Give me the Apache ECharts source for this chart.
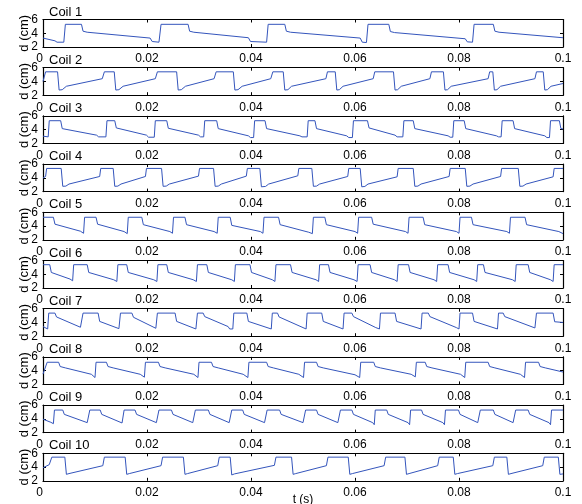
<!DOCTYPE html>
<html>
<head>
<meta charset="utf-8">
<script src="https://cdn.jsdelivr.net/npm/echarts@6/dist/echarts.min.js"></script>
<style>
html,body{margin:0;padding:0;background:#fff;}
#chart{width:582px;height:504px;}
</style>
</head>
<body>
<div id="chart"></div>
<script>
var coilNames = ['Coil 1','Coil 2','Coil 3','Coil 4','Coil 5','Coil 6','Coil 7','Coil 8','Coil 9','Coil 10'];
var xTickLabels = ['0','0.02','0.04','0.06','0.08','0.1'];
var yTickLabels = ['2','4','6'];
var xLabel = 't (s)';
var yLabel = 'd (cm)';

var coil1 = [[0,3.3],[0.0023,2.9],[0.0027,2.7],[0.004,2.7],[0.0043,5.3],[0.0074,5.3],[0.0077,4.3],[0.0085,4.15],[0.0206,3.3],[0.021,2.8],[0.0223,2.7],[0.0227,5.3],[0.0279,5.3],[0.0282,4.3],[0.029,4.15],[0.0395,3.35],[0.0399,2.8],[0.043,2.7],[0.0433,5.3],[0.0465,5.3],[0.0468,4.3],[0.0476,4.15],[0.061,3.3],[0.0614,2.7],[0.0622,2.65],[0.0625,5.3],[0.0665,5.3],[0.0668,4.25],[0.0676,4.1],[0.0812,3.2],[0.0816,2.75],[0.0826,2.7],[0.0829,5.3],[0.0866,5.3],[0.0869,4.3],[0.0877,4.15],[0.1,3.35]];
var coil2 = [[0,4.0],[0.0003,4.2],[0.0005,5.4],[0.0028,5.4],[0.0031,2.75],[0.0037,2.8],[0.0045,3.3],[0.0114,4.4],[0.0118,5.4],[0.0137,5.4],[0.014,2.75],[0.0146,2.8],[0.0154,3.3],[0.0216,4.4],[0.022,5.4],[0.0257,5.4],[0.026,2.75],[0.0266,2.8],[0.0274,3.3],[0.0329,4.4],[0.0333,5.4],[0.0366,5.4],[0.0369,2.75],[0.0375,2.8],[0.0383,3.3],[0.0438,4.4],[0.0442,5.4],[0.0462,5.4],[0.0465,2.75],[0.0471,2.8],[0.0478,3.3],[0.0544,4.4],[0.0547,5.4],[0.0562,5.4],[0.0565,2.75],[0.057,2.8],[0.0577,3.3],[0.0635,4.4],[0.0638,5.4],[0.0674,5.4],[0.0677,2.75],[0.0682,2.8],[0.0689,3.3],[0.0744,4.4],[0.0747,5.4],[0.077,5.4],[0.0773,2.75],[0.0778,2.8],[0.0785,3.3],[0.0856,4.4],[0.0859,5.4],[0.0865,5.4],[0.0868,2.75],[0.0873,2.8],[0.088,3.3],[0.0946,4.4],[0.0949,5.4],[0.0962,5.4],[0.0965,2.75],[0.097,2.8],[0.0977,3.3],[0.1,3.7]];
var coil3 = [[0,3.05],[0.001,2.95],[0.0012,5.3],[0.0034,5.3],[0.0037,4.15],[0.0103,3.2],[0.0107,2.95],[0.0121,2.95],[0.0123,5.3],[0.0138,5.3],[0.0141,4.25],[0.0199,3.2],[0.0203,2.9],[0.0214,2.9],[0.0216,5.3],[0.0238,5.3],[0.0241,4.2],[0.0299,3.2],[0.0303,2.95],[0.0309,2.95],[0.0311,5.3],[0.0334,5.3],[0.0337,4.15],[0.0395,3.1],[0.0399,2.85],[0.0405,2.85],[0.0407,5.3],[0.0427,5.3],[0.043,4.15],[0.0494,3.1],[0.0498,2.95],[0.0508,2.95],[0.051,5.3],[0.0523,5.3],[0.0526,4.15],[0.0584,3.1],[0.0588,2.85],[0.0595,2.85],[0.0597,5.3],[0.0624,5.3],[0.0627,4.25],[0.0677,3.2],[0.0681,2.95],[0.0692,2.95],[0.0694,5.3],[0.0712,5.3],[0.0715,4.15],[0.0779,3.1],[0.0783,2.9],[0.0788,2.9],[0.079,5.3],[0.081,5.3],[0.0813,4.15],[0.0872,3.1],[0.0876,2.95],[0.0881,2.95],[0.0883,5.3],[0.0904,5.3],[0.0907,4.15],[0.0965,3.1],[0.0969,2.85],[0.0974,2.85],[0.0976,5.3],[0.0993,5.3],[0.0996,4.15],[0.1,4.1]];
var coil4 = [[0,3.98],[0.0005,4.2],[0.0007,5.37],[0.0035,5.37],[0.0038,2.77],[0.0044,2.8],[0.005,3.1],[0.0109,4.2],[0.0111,5.37],[0.0135,5.37],[0.0138,2.77],[0.0144,2.8],[0.015,3.1],[0.0197,4.2],[0.0199,5.37],[0.0228,5.37],[0.0231,2.77],[0.0237,2.8],[0.0243,3.1],[0.0299,4.25],[0.0301,5.37],[0.0328,5.37],[0.0331,2.77],[0.0337,2.8],[0.0343,3.1],[0.0391,4.25],[0.0393,5.37],[0.0417,5.37],[0.042,2.7],[0.0428,2.75],[0.0434,3.1],[0.049,4.3],[0.0492,5.37],[0.0517,5.37],[0.052,2.77],[0.0526,2.8],[0.0532,3.1],[0.0586,4.2],[0.0588,5.37],[0.061,5.37],[0.0613,2.7],[0.0619,2.75],[0.0625,3.1],[0.0681,4.15],[0.0683,5.37],[0.0712,5.37],[0.0715,2.77],[0.0721,2.8],[0.0727,3.1],[0.0781,4.2],[0.0783,5.37],[0.0812,5.37],[0.0815,2.77],[0.0821,2.8],[0.0827,3.1],[0.088,4.2],[0.0882,5.37],[0.0914,5.37],[0.0917,2.77],[0.0923,2.8],[0.0929,3.1],[0.0981,4.15],[0.0983,5.37],[0.1,5.37]];
var coil5 = [[0,5.28],[0.002,5.28],[0.0023,4.27],[0.0072,3.25],[0.0078,2.95],[0.008,5.28],[0.0102,5.28],[0.0105,4.27],[0.0156,3.2],[0.0162,2.9],[0.0164,5.28],[0.019,5.28],[0.0193,4.2],[0.0244,3.2],[0.0249,2.95],[0.0251,5.28],[0.0273,5.28],[0.0276,4.2],[0.0329,3.2],[0.0335,2.95],[0.0337,5.28],[0.036,5.28],[0.0363,4.1],[0.0418,3.2],[0.0423,2.95],[0.0425,5.28],[0.0453,5.28],[0.0456,4.2],[0.0511,3.1],[0.0518,2.9],[0.052,5.28],[0.0542,5.28],[0.0545,4.2],[0.06,3.2],[0.0605,2.95],[0.0607,5.28],[0.0632,5.28],[0.0635,4.27],[0.0697,3.2],[0.0702,2.95],[0.0704,5.28],[0.0731,5.28],[0.0734,4.2],[0.0795,3.2],[0.08,2.95],[0.0802,5.28],[0.0824,5.28],[0.0827,4.2],[0.0892,3.2],[0.0897,2.95],[0.0899,5.28],[0.0927,5.28],[0.093,4.2],[0.0992,3.2],[0.1,2.9]];
var coil6 = [[0,5.39],[0.0013,5.39],[0.0016,4.26],[0.0052,3.3],[0.0057,3.05],[0.0059,5.39],[0.0085,5.39],[0.0088,4.26],[0.0136,3.2],[0.0142,2.95],[0.0144,5.39],[0.0161,5.39],[0.0164,4.26],[0.0213,3.2],[0.0219,2.95],[0.0221,5.39],[0.0238,5.39],[0.0241,4.26],[0.0289,3.2],[0.0295,2.95],[0.0297,5.39],[0.0315,5.39],[0.0318,4.26],[0.0363,3.2],[0.0368,2.95],[0.037,5.39],[0.0398,5.39],[0.0401,4.26],[0.0441,3.2],[0.0446,2.95],[0.0448,5.39],[0.0476,5.39],[0.0479,4.26],[0.0525,3.2],[0.053,2.95],[0.0532,5.39],[0.0549,5.39],[0.0552,4.26],[0.0598,3.2],[0.0604,2.95],[0.0606,5.39],[0.0629,5.39],[0.0632,4.26],[0.0676,3.2],[0.0681,2.95],[0.0683,5.39],[0.0703,5.39],[0.0706,4.26],[0.0752,3.2],[0.0757,2.95],[0.0759,5.39],[0.0779,5.39],[0.0782,4.26],[0.0829,3.2],[0.0834,2.95],[0.0836,5.39],[0.0847,5.39],[0.085,4.26],[0.0903,3.2],[0.0908,2.95],[0.091,5.39],[0.0933,5.39],[0.0936,4.26],[0.0976,3.2],[0.0981,2.95],[0.0983,5.39],[0.1,5.39]];
var coil7 = [[0,3.4],[0.0009,3.05],[0.0011,5.36],[0.0023,5.36],[0.0026,4.8],[0.0072,3.3],[0.0075,3.05],[0.0077,5.36],[0.0106,5.36],[0.0109,4.15],[0.0146,3.1],[0.0149,5.36],[0.0171,5.36],[0.0174,4.75],[0.0217,3.15],[0.022,5.36],[0.0254,5.36],[0.0257,4.15],[0.0294,3.05],[0.0297,5.36],[0.0308,5.36],[0.0311,4.85],[0.0356,3.4],[0.0359,3.05],[0.0365,3.05],[0.0367,5.36],[0.0392,5.36],[0.0395,4.15],[0.0439,3.05],[0.0441,5.36],[0.0451,5.36],[0.0454,4.8],[0.05,3.25],[0.0503,3.05],[0.0506,3.05],[0.0508,5.36],[0.0536,5.36],[0.0539,4.15],[0.0577,3.05],[0.0579,5.36],[0.0594,5.36],[0.0597,4.85],[0.064,3.25],[0.0643,3.05],[0.0647,3.05],[0.0649,5.36],[0.0677,5.36],[0.068,4.15],[0.0727,3.05],[0.0729,5.36],[0.0741,5.36],[0.0744,4.85],[0.0795,3.25],[0.0798,3.05],[0.08,3.05],[0.0802,5.36],[0.0826,5.36],[0.0829,4.15],[0.0874,3.05],[0.0876,5.36],[0.0885,5.36],[0.0888,4.85],[0.0946,3.2],[0.0949,5.36],[0.0981,5.36],[0.0984,4.1],[0.1,4.0]];
var coil8 = [[0,3.5],[0.0003,3.6],[0.0008,5.22],[0.003,5.22],[0.0033,4.6],[0.0043,4.4],[0.0093,3.47],[0.01,3.0],[0.0102,5.22],[0.0122,5.22],[0.0125,4.6],[0.0135,4.4],[0.0187,3.47],[0.0195,3.05],[0.0197,5.22],[0.0222,5.22],[0.0225,4.6],[0.0235,4.4],[0.029,3.47],[0.0298,3.0],[0.03,5.22],[0.0324,5.22],[0.0327,4.6],[0.0337,4.4],[0.0385,3.47],[0.0394,3.0],[0.0396,5.22],[0.043,5.22],[0.0433,4.6],[0.0443,4.4],[0.0492,3.47],[0.0501,3.0],[0.0503,5.22],[0.0526,5.22],[0.0529,4.6],[0.0539,4.4],[0.06,3.4],[0.0609,3.0],[0.0611,5.22],[0.0636,5.22],[0.0639,4.6],[0.0649,4.4],[0.0708,3.47],[0.0716,3.1],[0.0718,5.22],[0.0735,5.22],[0.0738,4.6],[0.0748,4.4],[0.0803,3.47],[0.0811,3.0],[0.0813,5.22],[0.0856,5.22],[0.0859,4.6],[0.0869,4.4],[0.0918,3.47],[0.0926,3.0],[0.0928,5.22],[0.0953,5.22],[0.0956,4.6],[0.0966,4.4],[0.1,3.8]];
var coil9 = [[0,3.95],[0.0015,3.5],[0.002,3.3],[0.0022,5.28],[0.0038,5.28],[0.0041,4.65],[0.0085,3.45],[0.0088,3.25],[0.009,5.28],[0.011,5.28],[0.0113,4.65],[0.0152,3.4],[0.0154,3.25],[0.0156,5.28],[0.0177,5.28],[0.018,4.65],[0.0218,3.45],[0.0221,3.2],[0.0223,5.28],[0.0247,5.28],[0.025,4.65],[0.0288,3.45],[0.0291,3.2],[0.0293,5.28],[0.0318,5.28],[0.0321,4.65],[0.0358,3.45],[0.0361,3.2],[0.0363,5.28],[0.0384,5.28],[0.0387,4.65],[0.0426,3.45],[0.0429,3.2],[0.0431,5.28],[0.0455,5.28],[0.0458,4.65],[0.05,3.45],[0.0503,3.2],[0.0505,5.28],[0.0526,5.28],[0.0529,4.65],[0.0567,3.45],[0.057,3.2],[0.0572,5.28],[0.0594,5.28],[0.0597,4.65],[0.0634,3.45],[0.0637,3.15],[0.0639,5.28],[0.0661,5.28],[0.0664,4.65],[0.0702,3.45],[0.0705,3.15],[0.0707,5.28],[0.0728,5.28],[0.0731,4.65],[0.0769,3.45],[0.0772,3.15],[0.0774,5.28],[0.0799,5.28],[0.0802,4.65],[0.0836,3.45],[0.0839,3.2],[0.0841,5.28],[0.0866,5.28],[0.0869,4.65],[0.0904,3.45],[0.0907,3.2],[0.0909,5.28],[0.0933,5.28],[0.0936,4.65],[0.0973,3.45],[0.0976,3.15],[0.0978,5.28],[0.1,5.28]];
var coil10 = [[0,3.9],[0.0012,4.35],[0.0017,5.44],[0.0042,5.44],[0.0045,2.94],[0.005,3.05],[0.0115,4.2],[0.0118,5.44],[0.0158,5.44],[0.0161,2.94],[0.0166,3.05],[0.0227,4.2],[0.023,5.44],[0.027,5.44],[0.0273,2.94],[0.0278,3.05],[0.0336,4.2],[0.0339,5.44],[0.036,5.44],[0.0363,2.85],[0.0368,3.0],[0.0445,4.25],[0.0448,5.44],[0.0478,5.44],[0.0481,2.94],[0.0486,3.05],[0.0545,4.2],[0.0548,5.44],[0.0587,5.44],[0.059,2.94],[0.0595,3.05],[0.0656,4.2],[0.0659,5.44],[0.0696,5.44],[0.0699,2.94],[0.0704,3.05],[0.0759,4.2],[0.0762,5.44],[0.0789,5.44],[0.0792,2.94],[0.0797,3.05],[0.0865,4.2],[0.0868,5.44],[0.0892,5.44],[0.0895,2.94],[0.09,3.05],[0.0961,4.2],[0.0964,5.44],[0.0991,5.44],[0.0994,2.94],[0.1,3.0]];

var coils = [coil1,coil2,coil3,coil4,coil5,coil6,coil7,coil8,coil9,coil10];

var FONT = '"Liberation Sans", Arial, Helvetica, sans-serif';
var LINE = '#3455bc';
var grids = [], xAxes = [], yAxes = [], series = [], texts = [];
var top0 = 19.5, step = 48.2, h = 27.5, left = 43, right = 19;

for (var i = 0; i < coils.length; i++) {
  var t = top0 + i * step;
  grids.push({left: left, right: right, top: t, height: h, show: false});
  texts.push({type: 'text', left: 49, top: t - 14, z: 10, silent: true,
    style: {text: coilNames[i], font: '13px ' + FONT, fill: '#000'}});
  xAxes.push({
    type: 'value', gridIndex: i, position: 'bottom', min: 0, max: 0.1, interval: 0.02,
    axisLine: {show: true, onZero: false, lineStyle: {color: '#000', width: 1.2}},
    axisTick: {show: true, inside: true, length: 3, lineStyle: {color: '#000'}},
    splitLine: {show: false},
    axisLabel: {show: true, margin: 6, color: '#000', fontFamily: FONT, fontSize: 12,
      showMinLabel: true, showMaxLabel: true, hideOverlap: false, alignMinLabel: 'right',
      formatter: function (v) { return xTickLabels[Math.round(v / 0.02)]; }}
  });
  xAxes.push({
    type: 'value', gridIndex: i, position: 'top', min: 0, max: 0.1, interval: 0.02,
    axisLine: {show: true, onZero: false, lineStyle: {color: '#000', width: 1.2}},
    axisTick: {show: true, inside: true, length: 3, lineStyle: {color: '#000'}},
    splitLine: {show: false}, axisLabel: {show: false}
  });
  yAxes.push({
    type: 'value', gridIndex: i, position: 'left', min: 2, max: 6, interval: 2,
    axisLine: {show: true, onZero: false, lineStyle: {color: '#000', width: 1.2}},
    axisTick: {show: true, inside: true, length: 3, lineStyle: {color: '#000'}},
    splitLine: {show: false},
    axisLabel: {show: true, margin: 5, color: '#000', fontFamily: FONT, fontSize: 12,
      showMinLabel: true, showMaxLabel: true, hideOverlap: false,
      formatter: function (v) { return yTickLabels[Math.round((v - 2) / 2)]; }},
    name: yLabel, nameLocation: 'middle', nameGap: 12, nameRotate: 90, nameMoveOverlap: false,
    nameTextStyle: {fontFamily: FONT, fontSize: 13, color: '#000'}
  });
  yAxes.push({
    type: 'value', gridIndex: i, position: 'right', min: 2, max: 6, interval: 2,
    axisLine: {show: true, onZero: false, lineStyle: {color: '#000', width: 1.2}},
    axisTick: {show: true, inside: true, length: 3, lineStyle: {color: '#000'}},
    splitLine: {show: false}, axisLabel: {show: false}
  });
  series.push({
    type: 'line', xAxisIndex: 2 * i, yAxisIndex: 2 * i, data: coils[i],
    showSymbol: false, symbol: 'none', animation: false, clip: true,
    lineStyle: {color: LINE, width: 1}
  });
}
var lastTop = top0 + (coils.length - 1) * step;
texts.push({type: 'text', x: left + (582 - left - right) / 2, y: lastTop + h + 13, z: 10, silent: true,
  style: {text: xLabel, font: '12px ' + FONT, fill: '#000', align: 'center', verticalAlign: 'top'}});

var chart = echarts.init(document.getElementById('chart'), null, {renderer: 'canvas'});
chart.setOption({
  animation: false,
  backgroundColor: '#fff',
  grid: grids,
  xAxis: xAxes,
  yAxis: yAxes,
  series: series,
  graphic: texts
});
</script>
</body>
</html>
